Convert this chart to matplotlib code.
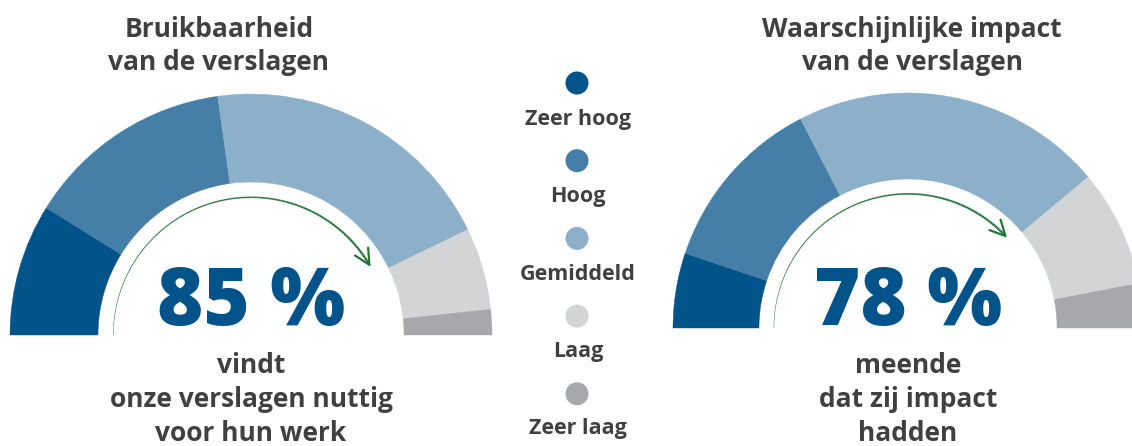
import numpy as np
import matplotlib
matplotlib.use("Agg")
import matplotlib.pyplot as plt
from matplotlib.patches import Wedge, Circle
from matplotlib.collections import LineCollection

# data (shares in %)
categories = ["Zeer hoog", "Hoog", "Gemiddeld", "Laag", "Zeer laag"]
colors = ["#02538a", "#457fa7", "#8db0ca", "#d3d4d6", "#a6a8ab"]
bruikbaarheid = [17.7, 27.9, 40.0, 11.0, 3.4]
impact = [10.3, 24.6, 42.9, 16.1, 6.1]
headline = [85, 78]

titles = [["Bruikbaarheid", "van de verslagen"],
          ["Waarschijnlijke impact", "van de verslagen"]]
captions = [["vindt", "onze verslagen nuttig", "voor hun werk"],
            ["meende", "dat zij impact", "hadden"]]

text_gray = "#404041"
num_blue = "#02538a"
arrow_green = "#23733a"

plt.rcParams["font.family"] = ["Open Sans", "DejaVu Sans"]

fig = plt.figure(figsize=(11.32, 4.46), dpi=100)
ax = fig.add_axes([0, 0, 1, 1])
ax.set_xlim(0, 1132)
ax.set_ylim(0, 446)
ax.axis("off")


def gauge(cx, cy, R, r, values, pct, title, caption, title_x):
    start = 180.0
    total = sum(values)
    for v, c in zip(values, colors):
        span = 180.0 * v / total
        ax.add_patch(Wedge((cx, cy), R, start - span, start, width=R - r,
                           facecolor=c, edgecolor=c, lw=0.3))
        start -= span

    # green arrow along the inside of the gauge
    ra = r * 0.9
    end = 180.0 * (1 - pct / 100.0) + 1.5
    th = np.radians(np.linspace(180, end + 3, 120))
    pts = np.column_stack([cx + ra * np.cos(th), cy + ra * np.sin(th)])
    segs = np.stack([pts[:-1], pts[1:]], axis=1)
    lc = LineCollection(segs, colors=arrow_green,
                        linewidths=np.linspace(0.3, 1.6, len(segs)))
    ax.add_collection(lc)
    te = np.radians(end)
    tb = np.radians(end + 4)
    ax.annotate("", xy=(cx + ra * np.cos(te), cy + ra * np.sin(te)),
                xytext=(cx + ra * np.cos(tb), cy + ra * np.sin(tb)),
                arrowprops=dict(arrowstyle="->,head_length=1.1,head_width=0.55",
                                color=arrow_green, lw=1.6))

    # headline number
    ax.text(cx, 446 - 325, f"{pct} %", ha="center", va="baseline",
            fontsize=57, fontweight="heavy", color=num_blue)

    for i, line in enumerate(title):
        ax.text(title_x, 446 - (37 + 33 * i), line, ha="center", va="baseline",
                fontsize=19, fontweight="bold", color=text_gray)
    for i, line in enumerate(caption):
        ax.text(cx, 446 - (373 + 34 * i), line, ha="center", va="baseline",
                fontsize=19, fontweight="bold", color=text_gray)


gauge(251, 111, 241, 153, bruikbaarheid, headline[0], titles[0], captions[0], 219)
gauge(908, 118, 235, 149, impact, headline[1], titles[1], captions[1], 912)

# legend in the middle
for i, (cat, c) in enumerate(zip(categories, colors)):
    ax.add_patch(Circle((577, 446 - (83 + 77.7 * i)), 11.5, facecolor=c,
                        edgecolor="none"))
    ax.text(578, 446 - (125 + 77.3 * i), cat, ha="center", va="baseline",
            fontsize=15.5, fontweight="bold", color=text_gray)

fig.savefig("out.png", dpi=100)
